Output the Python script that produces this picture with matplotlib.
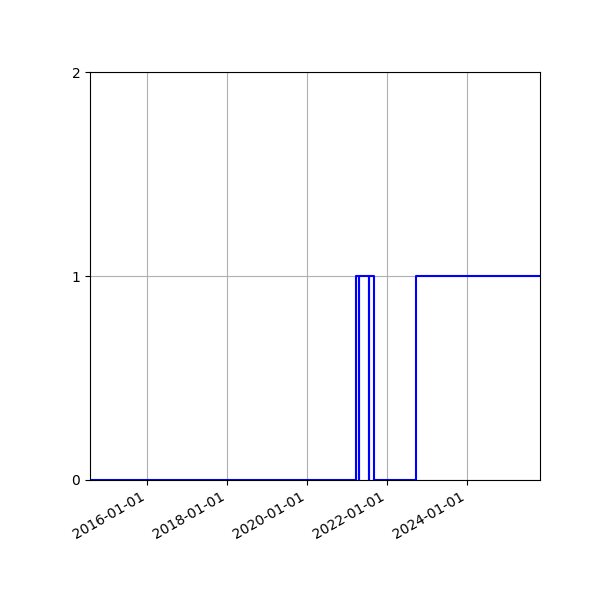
import matplotlib
matplotlib.use("Agg")
import matplotlib.pyplot as plt
import matplotlib.dates as mdates
import pandas as pd

# state changes (value holds until next date)
change_dates = [
    "2014-07-30", "2021-03-22", "2021-04-20", "2021-04-21",
    "2021-07-20", "2021-07-21", "2021-09-01", "2022-09-22", "2025-10-28",
]
states = [0, 1, 0, 1, 0, 1, 0, 1, 1]
tick_dates = ["2016-01-01", "2018-01-01", "2020-01-01", "2022-01-01", "2024-01-01"]

dates = pd.to_datetime(change_dates)

fig, ax = plt.subplots(figsize=(6, 6), dpi=100)

ax.step(dates, states, where="post", color="blue")

ax.set_xlim(dates[0], dates[-1])
ax.set_ylim(0, 2)
ax.set_yticks([0, 1, 2])
ax.set_xticks(pd.to_datetime(tick_dates))
ax.xaxis.set_major_formatter(mdates.DateFormatter("%Y-%m-%d"))
ax.grid(True)

fig.autofmt_xdate()
fig.subplots_adjust(left=0.15, right=0.9, top=0.88, bottom=0.2)

plt.savefig("out.png")
plt.close()
